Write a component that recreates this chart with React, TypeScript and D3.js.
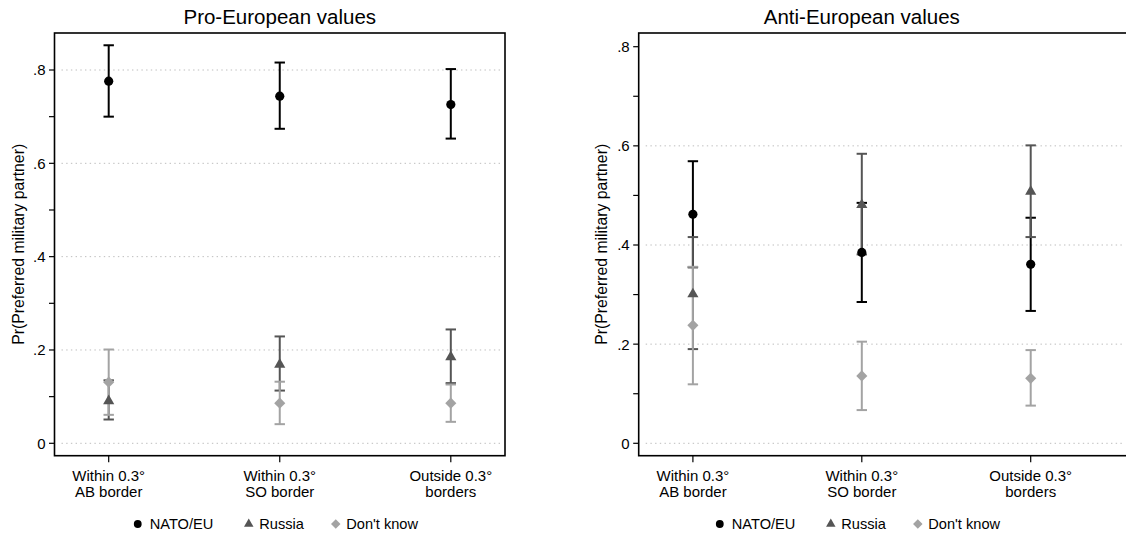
import React from 'react';
import * as d3 from 'd3';

const width = 1126;
const height = 536;

const categories = ['AB', 'SO', 'OUT'];
const categoryLines = [['Within 0.3°', 'AB border'], ['Within 0.3°', 'SO border'], ['Outside 0.3°', 'borders']];
const seriesNames = ['NATO/EU', 'Russia', "Don't know"];
const seriesColors = ['#000000', '#555555', '#a3a3a3'];
const majorTicks = [0, 0.2, 0.4, 0.6, 0.8];
const majorLabels = ['0', '.2', '.4', '.6', '.8'];
const minorTicks = [0.1, 0.3, 0.5, 0.7];

// Pro-European values
const proNatoEst = [0.776, 0.744, 0.726];
const proNatoLo = [0.700, 0.674, 0.653];
const proNatoHi = [0.853, 0.816, 0.802];
const proRusEst = [0.093, 0.171, 0.187];
const proRusLo = [0.051, 0.113, 0.129];
const proRusHi = [0.135, 0.229, 0.244];
const proDkEst = [0.131, 0.086, 0.086];
const proDkLo = [0.061, 0.041, 0.046];
const proDkHi = [0.201, 0.132, 0.126];

// Anti-European values
const antiNatoEst = [0.462, 0.385, 0.361];
const antiNatoLo = [0.355, 0.285, 0.267];
const antiNatoHi = [0.569, 0.485, 0.455];
const antiRusEst = [0.303, 0.483, 0.510];
const antiRusLo = [0.190, 0.381, 0.416];
const antiRusHi = [0.416, 0.584, 0.601];
const antiDkEst = [0.238, 0.136, 0.131];
const antiDkLo = [0.119, 0.067, 0.076];
const antiDkHi = [0.356, 0.205, 0.188];

const font = '"Liberation Sans", Arial, Helvetica, sans-serif';

const markerPath = (i: number) => {
  if (i === 0) return d3.symbol().type(d3.symbolCircle).size(Math.PI * 4.6 * 4.6)()!;
  if (i === 1) return d3.symbol().type(d3.symbolTriangle).size(54)()!;
  return d3.symbol().type(d3.symbolSquare).size(62)()!;
};
const markerRotate = (i: number) => (i === 2 ? 45 : 0);

type Series = { est: number[]; lo: number[]; hi: number[] };

const Panel = ({ title, series, left, right, yTop, frameRight, labelX, gridTicks }: {
  title: string; series: Series[]; left: number; right: number; yTop: number;
  frameRight: number; labelX: number; gridTicks: number[];
}) => {
  const top = 33;
  const bottom = 455.7;
  const y = d3.scaleLinear().domain([0, 0.8]).range([443.3, yTop]);
  const x = d3.scalePoint<string>().domain(categories).range([left + 54.2, right - 54.2]);
  const mid = x(categories[1])!;
  const legendOffsets = [-142, -31, 56];
  return (
    <g fontFamily={font}>
      <text x={mid} y={24} textAnchor="middle" fontSize={20.5}>{title}</text>
      {gridTicks.map(t => (
        <line key={'g' + t} x1={left + 7} x2={Math.min(frameRight, width) - 2} y1={y(t)} y2={y(t)}
          stroke="#bdbdbd" strokeWidth={1} strokeDasharray="1.4 3.3" />
      ))}
      <rect x={left} y={top} width={frameRight - left} height={bottom - top} fill="none" stroke="#000" strokeWidth={1.6} />
      {majorTicks.map((t, i) => (
        <g key={'t' + t}>
          <line x1={left - 5.5} x2={left} y1={y(t)} y2={y(t)} stroke="#000" strokeWidth={1.2} />
          <text x={left - 9} y={y(t)} dy="0.36em" textAnchor="end" fontSize={15}>{majorLabels[i]}</text>
        </g>
      ))}
      {minorTicks.map(t => (
        <line key={'m' + t} x1={left - 5.5} x2={left} y1={y(t)} y2={y(t)} stroke="#000" strokeWidth={1.2} />
      ))}
      <text transform={`translate(${labelX}, ${(top + bottom) / 2}) rotate(-90)`} textAnchor="middle"
        dominantBaseline="central" fontSize={15.8}>Pr(Preferred military partner)</text>
      {categories.map((c, i) => (
        <g key={c}>
          <line x1={x(c)} x2={x(c)} y1={bottom} y2={bottom + 6.5} stroke="#000" strokeWidth={1.2} />
          <text x={x(c)} y={480.7} textAnchor="middle" fontSize={15}>{categoryLines[i][0]}</text>
          <text x={x(c)} y={496.7} textAnchor="middle" fontSize={15}>{categoryLines[i][1]}</text>
        </g>
      ))}
      {series.map((s, si) => (
        <g key={'ci' + si} stroke={seriesColors[si]} strokeWidth={2}>
          {categories.map((c, i) => (
            <g key={c}>
              <line x1={x(c)} x2={x(c)} y1={y(s.lo[i])} y2={y(s.hi[i])} />
              <line x1={x(c)! - 5.2} x2={x(c)! + 5.2} y1={y(s.lo[i])} y2={y(s.lo[i])} />
              <line x1={x(c)! - 5.2} x2={x(c)! + 5.2} y1={y(s.hi[i])} y2={y(s.hi[i])} />
            </g>
          ))}
        </g>
      ))}
      {series.map((s, si) => (
        <g key={'pt' + si} fill={seriesColors[si]}>
          {categories.map((c, i) => (
            <path key={c} d={markerPath(si)}
              transform={`translate(${x(c)}, ${y(s.est[i]) + (si === 1 ? 1 : 0)}) rotate(${markerRotate(si)})`} />
          ))}
        </g>
      ))}
      {seriesNames.map((n, si) => (
        <g key={n} transform={`translate(${mid + legendOffsets[si]}, 524)`}>
          <path d={markerPath(si)} fill={seriesColors[si]} transform={`rotate(${markerRotate(si)}) scale(0.85)`} />
          <text x={si === 0 ? 12 : 10.5} y={5.3} fontSize={14.6}>{n}</text>
        </g>
      ))}
    </g>
  );
};

export default function App() {
  const proSeries: Series[] = [
    { est: proNatoEst, lo: proNatoLo, hi: proNatoHi },
    { est: proRusEst, lo: proRusLo, hi: proRusHi },
    { est: proDkEst, lo: proDkLo, hi: proDkHi },
  ];
  const antiSeries: Series[] = [
    { est: antiNatoEst, lo: antiNatoLo, hi: antiNatoHi },
    { est: antiRusEst, lo: antiRusLo, hi: antiRusHi },
    { est: antiDkEst, lo: antiDkLo, hi: antiDkHi },
  ];
  return (
    <svg width={width} height={height} style={{ position: 'absolute', left: 0, top: 0, background: '#fff' }}>
      <rect width={width} height={height} fill="#fff" />
      <Panel title="Pro-European values" series={proSeries} left={54.5} right={505} frameRight={505}
        yTop={70} labelX={18} gridTicks={majorTicks} />
      <Panel title="Anti-European values" series={antiSeries} left={638.7} right={1084.9} frameRight={1140}
        yTop={46.7} labelX={601} gridTicks={[0, 0.2, 0.4, 0.6]} />
    </svg>
  );
}
